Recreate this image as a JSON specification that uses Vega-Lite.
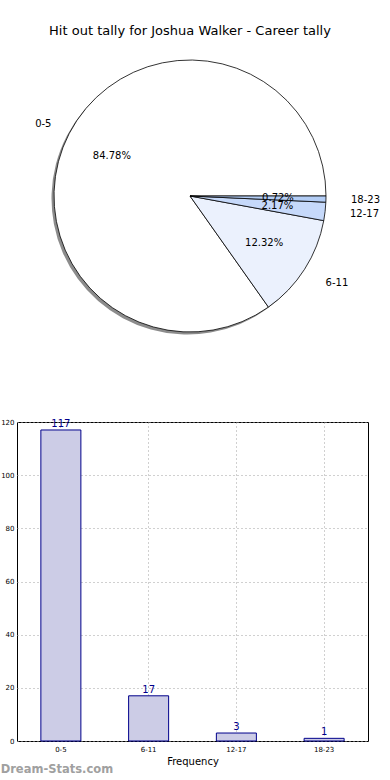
{
  "$schema": "https://vega.github.io/schema/vega-lite/v6.json",
  "padding": {"left": 0, "top": 25, "right": 0, "bottom": 0},
  "config": {"font": "DejaVu Sans", "view": {"stroke": null}},
  "spacing": 72,
  "datasets": {
    "tally": [
      {"bucket": "0-5", "count": 117, "pct": "84.78%"},
      {"bucket": "6-11", "count": 17, "pct": "12.32%"},
      {"bucket": "12-17", "count": 3, "pct": "2.17%"},
      {"bucket": "18-23", "count": 1, "pct": "0.72%"}
    ]
  },
  "vconcat": [
    {
      "width": 346,
      "height": 298,
      "title": {"text": "Hit out tally for Joshua Walker - Career tally", "fontSize": 13, "fontWeight": "normal", "offset": 9, "anchor": "middle"},
      "data": {"name": "tally"},
      "encoding": {
        "theta": {"field": "count", "type": "quantitative", "stack": true, "scale": {"range": [1.5708, 7.854]}},
        "order": {"field": "count", "sort": "ascending"}
      },
      "layer": [
        {
          "mark": {"type": "arc", "outerRadius": 136, "fill": "#808080", "opacity": 0.9, "xOffset": -2.5, "yOffset": 2.5}
        },
        {
          "mark": {"type": "arc", "outerRadius": 136, "stroke": "black", "strokeWidth": 0.8},
          "encoding": {
            "fill": {"field": "bucket", "type": "nominal", "legend": null,
              "scale": {"domain": ["0-5", "6-11", "12-17", "18-23"], "range": ["#ffffff", "#ebf1fd", "#c6d9fa", "#b3cdf5"]}}
          }
        },
        {
          "mark": {"type": "text", "radius": 88, "fontSize": 10, "align": "center", "baseline": "middle"},
          "encoding": {"text": {"field": "pct"}}
        },
        {
          "mark": {"type": "text", "radius": 156, "fontSize": 10, "align": "right", "baseline": "middle"},
          "encoding": {"text": {"condition": {"test": "datum.bucket == '0-5'", "field": "bucket"}, "value": ""}}
        },
        {
          "mark": {"type": "text", "radius": 161, "fontSize": 10, "align": "left", "baseline": "middle"},
          "encoding": {"text": {"condition": {"test": "datum.bucket != '0-5'", "field": "bucket"}, "value": ""}}
        }
      ]
    },
    {
      "width": 351,
      "height": 319,
      "view": {"stroke": "black", "strokeWidth": 1},
      "title": {"text": "Dream-Stats.com", "orient": "bottom", "anchor": "start", "frame": "bounds", "fontSize": 11.5, "fontWeight": "bold", "color": "#a0a0a0", "offset": -2},
      "data": {"name": "tally"},
      "encoding": {
        "x": {"field": "bucket", "type": "nominal", "sort": ["0-5", "6-11", "12-17", "18-23"],
          "scale": {"paddingInner": 0.544, "paddingOuter": 0.272},
          "axis": {"title": "Frequency", "labelAngle": 0, "labelFontSize": 7, "labelPadding": 4, "titleFontSize": 10, "titleFontWeight": "normal", "titlePadding": 4, "ticks": false, "domain": false, "bandPosition": 0.5, "grid": true, "gridDash": [1, 3], "gridColor": "#a0a0a0", "labelColor": "black", "titleColor": "black"}},
        "y": {"field": "count", "type": "quantitative", "scale": {"domain": [0, 120], "nice": false},
          "axis": {"title": null, "values": [0, 20, 40, 60, 80, 100, 120], "labelFontSize": 7, "labelPadding": 3, "ticks": false, "domain": false, "grid": true, "gridDash": [1, 3], "gridColor": "#a0a0a0", "labelColor": "black"}}
      },
      "layer": [
        {"mark": {"type": "bar", "fill": "#ccccE6", "stroke": "#00008b", "strokeWidth": 1}},
        {"mark": {"type": "text", "dy": -6, "fontSize": 10, "color": "#00008b"}, "encoding": {"text": {"field": "count"}}}
      ]
    }
  ]
}
